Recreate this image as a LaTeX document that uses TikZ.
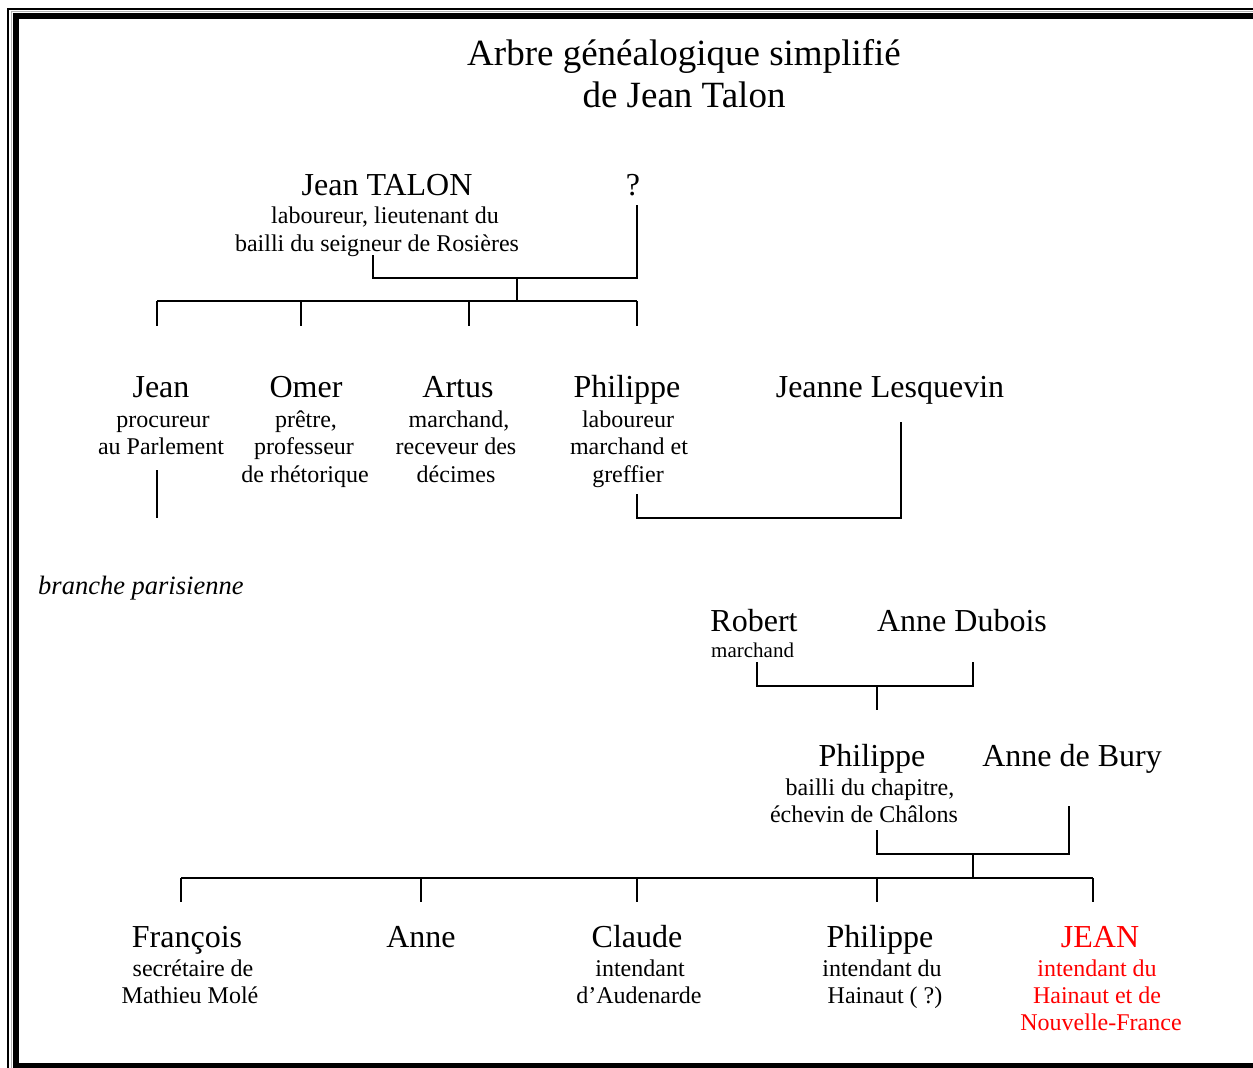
\documentclass[tikz,border=0pt]{standalone}
\usepackage{fontspec}
\setmainfont{Liberation Serif}
\begin{document}
\begin{tikzpicture}[x=1pt,y=-1pt,
  namef/.style={font=\fontsize{32}{38}\selectfont, anchor=base, inner sep=0pt},
  subf/.style={font=\fontsize{24}{27.5}\selectfont, anchor=base, inner sep=0pt},
  smallf/.style={font=\fontsize{21}{25}\selectfont, anchor=base, inner sep=0pt},
  titlef/.style={font=\fontsize{37}{42}\selectfont, anchor=base, inner sep=0pt},
  link/.style={line width=2pt},
  hl/.style={text=red}]
\useasboundingbox (0,0) rectangle (1253,1068);
\clip (0,0) rectangle (1253,1068);
% frame
\draw[line width=2pt] (8,9) rectangle (1270,1080);
\draw[line width=1pt, gray!60] (11,11.5) rectangle (1268,1078);
\draw[line width=6pt] (16,16) rectangle (1262,1066);

% title
\node[titlef] (t1) at (684,65) {Arbre généalogique simplifié};
\node[titlef] (t2) at (684,107) {de Jean Talon};

% generation 1
\node[namef] (jt) at (387,195) {Jean TALON};
\node[subf] (jtA) at (385,223) {laboureur, lieutenant du};
\node[subf] (jtB) at (377,251) {bailli du seigneur de Rosières};
\node[namef] (q) at (633,195) {?};

% generation 2
\node[namef] (jean) at (161,397) {Jean};
\node[subf] (jeanA) at (163,427) {procureur};
\node[subf] (jeanB) at (161,454.5) {au Parlement};

\node[namef] (omer) at (306,397) {Omer};
\node[subf] (omerA) at (306,427) {prêtre,};
\node[subf] (omerB) at (304,454.5) {professeur};
\node[subf] (omerC) at (305,482) {de rhétorique};

\node[namef] (artus) at (458,397) {Artus};
\node[subf] (artusA) at (459,427) {marchand,};
\node[subf] (artusB) at (456,454.5) {receveur des};
\node[subf] (artusC) at (456,482) {décimes};

\node[namef] (ph1) at (627,397) {Philippe};
\node[subf] (ph1A) at (628,427) {laboureur};
\node[subf] (ph1B) at (629,454.5) {marchand et};
\node[subf] (ph1C) at (628,482) {greffier};

\node[namef] (jl) at (890,397) {Jeanne Lesquevin};

\node[font=\fontsize{26.5}{30}\selectfont\itshape, anchor=base west, inner sep=0pt] (bp) at (38,594) {branche parisienne};

% generation 3
\node[namef] (rob) at (754,631) {Robert};
\node[smallf, anchor=base west] (robA) at (711,657) {marchand};
\node[namef] (ad) at (962,631) {Anne Dubois};

% generation 4
\node[namef] (ph2) at (872,766) {Philippe};
\node[subf] (ph2A) at (870,795) {bailli du chapitre,};
\node[subf] (ph2B) at (864,822) {échevin de Châlons};
\node[namef] (ab) at (1072,766) {Anne de Bury};

% generation 5
\node[namef] (fr) at (187,947) {François};
\node[subf] (frA) at (193,976) {secrétaire de};
\node[subf] (frB) at (190,1003) {Mathieu Molé};

\node[namef] (anne) at (421,947) {Anne};

\node[namef] (cl) at (637,947) {Claude};
\node[subf] (clA) at (640,976) {intendant};
\node[subf] (clB) at (639,1003) {d’Audenarde};

\node[namef] (ph3) at (880,947) {Philippe};
\node[subf] (ph3A) at (882,976) {intendant du};
\node[subf] (ph3B) at (885,1003) {Hainaut ( ?)};

\node[namef, hl] (jn) at (1100,947) {JEAN};
\node[subf, hl] (jnA) at (1097,976) {intendant du};
\node[subf, hl] (jnB) at (1097,1003) {Hainaut et de};
\node[subf, hl] (jnC) at (1101,1030) {Nouvelle-France};

% connector coordinates
\coordinate (c1a) at (373,255);
\coordinate (c1b) at (637,205);
\coordinate (c1m) at (517,278);
\coordinate (c1d) at (517,301);
\coordinate (d1) at (157,326);
\coordinate (d2) at (301,326);
\coordinate (d3) at (469,326);
\coordinate (d4) at (637,326);
\coordinate (e1) at (157,470);
\coordinate (e2) at (157,518);
\coordinate (f1) at (637,494);
\coordinate (f2) at (901,422);
\coordinate (g1) at (757,662);
\coordinate (g2) at (973,662);
\coordinate (gm) at (877,686);
\coordinate (gd) at (877,710);
\coordinate (h1) at (877,830);
\coordinate (h2) at (1069,806);
\coordinate (hm) at (973,854);
\coordinate (hd) at (973,878);
\coordinate (k1) at (181,902);
\coordinate (k2) at (421,902);
\coordinate (k3) at (637,902);
\coordinate (k4) at (877,902);
\coordinate (k5) at (1093,902);

% connectors
\draw[link] (c1a) |- (c1b |- c1m) -- (c1b);
\draw[link] (c1m) -- (c1d);
\draw[link] (d1 |- c1d) -- (d4 |- c1d);
\foreach \d in {d1,d2,d3,d4} \draw[link] (\d |- c1d) -- (\d);
\draw[link] (e1) -- (e2);
\draw[link] (f1) |- (f2 |- e2) -- (f2);
\draw[link] (g1) |- (g2 |- gm) -- (g2);
\draw[link] (gm) -- (gd);
\draw[link] (h1) |- (h2 |- hm) -- (h2);
\draw[link] (hm) -- (hd);
\draw[link] (k1 |- hd) -- (k5 |- hd);
\foreach \k in {k1,k2,k3,k4,k5} \draw[link] (\k |- hd) -- (\k);
\end{tikzpicture}
\end{document}
